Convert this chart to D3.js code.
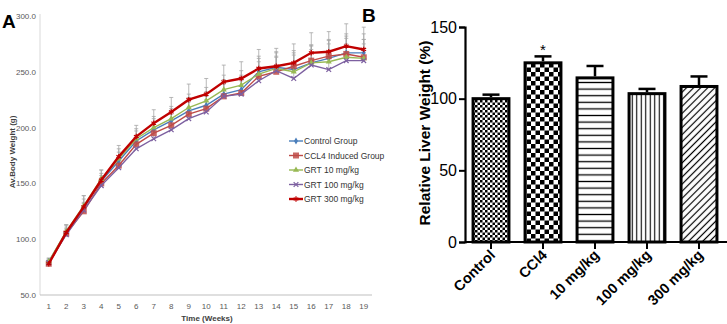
<!DOCTYPE html>
<html>
<head>
<meta charset="utf-8">
<script src="https://cdn.jsdelivr.net/npm/d3@7"></script>
<style>
  body { margin: 0; background: #fff; }
  svg { display: block; font-family: "Liberation Sans", Arial, sans-serif; }
</style>
</head>
<body>
<div id="chart"></div>
<script>
// ---- panel A data ----
const weeks = d3.range(1, 20);
const seriesNames = ["Control Group", "CCL4 Induced Group", "GRT 10 mg/kg", "GRT 100 mg/kg", "GRT 300 mg/kg"];
const controlVals = [80, 106, 128, 152, 170, 188, 198, 206, 215, 220, 230, 234, 250, 254, 252, 258, 262, 267, 267];
const ccl4Vals    = [78, 105, 125, 150, 166, 185, 195, 202, 212, 217, 228, 231, 246, 250, 255, 260, 264, 266, 263];
const grt10Vals   = [80, 107, 130, 154, 172, 190, 200, 208, 218, 224, 234, 238, 248, 253, 250, 258, 259, 263, 262];
const grt100Vals  = [79, 104, 126, 148, 164, 181, 190, 198, 208, 214, 228, 230, 242, 251, 244, 256, 252, 260, 260];
const grt300Vals  = [78, 106, 129, 153, 174, 192, 204, 214, 225, 230, 241, 244, 253, 255, 258, 267, 268, 273, 270];
const controlErr  = [3, 6, 8, 7, 8, 9, 10, 11, 12, 12, 13, 13, 14, 14, 15, 16, 16, 17, 17];
const ccl4Err     = [3, 5, 7, 7, 8, 8, 9, 10, 11, 11, 12, 12, 13, 13, 14, 14, 15, 16, 16];
const grt10Err    = [3, 6, 9, 8, 9, 9, 10, 11, 12, 12, 13, 13, 14, 14, 15, 15, 16, 17, 17];
const grt100Err   = [3, 5, 7, 7, 7, 8, 9, 10, 10, 11, 11, 12, 12, 13, 13, 14, 14, 15, 15];
const grt300Err   = [3, 7, 10, 9, 10, 10, 12, 13, 14, 14, 15, 15, 17, 16, 17, 18, 18, 20, 20];
const yTicksA = [50, 100, 150, 200, 250, 300];

// ---- panel B data ----
const groups = ["Control", "CCl4", "10 mg/kg", "100 mg/kg", "300 mg/kg"];
const liverVals = [100, 125, 114.5, 103.5, 108.5];
const liverErr  = [2.8, 4.5, 8.3, 3.3, 7];
const yTicksB = [0, 50, 100, 150];

const W = 727, H = 324;
const svg = d3.select("#chart").append("svg").attr("width", W).attr("height", H);

// ================= Panel A =================
const colors = ["#4a7ebb", "#be4b48", "#98b954", "#7d60a0", "#c00000"];
const widths = [1.4, 1.4, 1.4, 1.4, 2.4];
const allVals = [controlVals, ccl4Vals, grt10Vals, grt100Vals, grt300Vals];
const allErr = [controlErr, ccl4Err, grt10Err, grt100Err, grt300Err];

const xA = d3.scalePoint().domain(weeks).range([40, 372.5]).padding(0.5);
const yA = d3.scaleLinear().domain([50, 300]).range([295, 16]);

const gA = svg.append("g");

gA.append("line").attr("x1", 40).attr("x2", 40).attr("y1", 14).attr("y2", 295)
  .attr("stroke", "#d9d9d9").attr("stroke-width", 1);
gA.append("line").attr("x1", 40).attr("x2", 372).attr("y1", 295).attr("y2", 295)
  .attr("stroke", "#bfbfbf").attr("stroke-width", 1);

gA.selectAll(".ytA").data(yTicksA).enter().append("text")
  .attr("x", 36).attr("y", d => yA(d) + 3)
  .attr("text-anchor", "end").attr("font-size", 8).attr("fill", "#595959")
  .text(d => d.toFixed(1));

gA.selectAll(".xtA").data(weeks).enter().append("text")
  .attr("x", d => xA(d)).attr("y", 309)
  .attr("text-anchor", "middle").attr("font-size", 8).attr("fill", "#595959")
  .text(d => d);

gA.append("text").attr("x", 207).attr("y", 321).attr("text-anchor", "middle")
  .attr("font-size", 8).attr("font-weight", "bold").attr("fill", "#404040").text("Time (Weeks)");

gA.append("text").attr("transform", "translate(15,152) rotate(-90)").attr("text-anchor", "middle")
  .attr("font-size", 8).attr("font-weight", "bold").attr("fill", "#404040").text("Av.Body Weight (g)");

gA.append("text").attr("x", 2).attr("y", 28).attr("font-size", 19).attr("font-weight", "bold").text("A");

// error bars (upward only)
allVals.forEach((vals, si) => {
  const eg = gA.append("g").attr("stroke", "#a6a6a6").attr("stroke-width", 0.8);
  weeks.forEach((w, i) => {
    const x = xA(w), y0 = yA(vals[i]), y1 = yA(vals[i] + allErr[si][i]);
    eg.append("line").attr("x1", x).attr("x2", x).attr("y1", y0).attr("y2", y1);
    eg.append("line").attr("x1", x - 2).attr("x2", x + 2).attr("y1", y1).attr("y2", y1);
  });
});

const line = d3.line().x((d, i) => xA(weeks[i])).y(d => yA(d));

function marker(g, type, x, y, c) {
  if (type === 0) {
    g.append("path").attr("d", d3.symbol(d3.symbolDiamond, 14)()).attr("transform", `translate(${x},${y})`).attr("fill", c);
  } else if (type === 1) {
    g.append("rect").attr("x", x - 3).attr("y", y - 3).attr("width", 6).attr("height", 6).attr("fill", c).attr("opacity", 0.85);
  } else if (type === 2) {
    g.append("path").attr("d", d3.symbol(d3.symbolTriangle, 16)()).attr("transform", `translate(${x},${y})`).attr("fill", c);
  } else if (type === 3) {
    g.append("path").attr("d", d3.symbol(d3.symbolX, 16)()).attr("transform", `translate(${x},${y})`).attr("fill", "none").attr("stroke", c).attr("stroke-width", 1.2);
  } else {
    g.append("path").attr("d", d3.symbol(d3.symbolAsterisk, 20)()).attr("transform", `translate(${x},${y})`).attr("fill", "none").attr("stroke", c).attr("stroke-width", 1.2);
  }
}

allVals.forEach((vals, si) => {
  gA.append("path").datum(vals).attr("d", line).attr("fill", "none")
    .attr("stroke", colors[si]).attr("stroke-width", widths[si]);
  const mg = gA.append("g");
  vals.forEach((v, i) => marker(mg, si, xA(weeks[i]), yA(v), colors[si]));
});

// legend
const leg = gA.append("g");
seriesNames.forEach((n, i) => {
  const y = 141 + i * 14.5;
  leg.append("line").attr("x1", 289).attr("x2", 303).attr("y1", y).attr("y2", y)
    .attr("stroke", colors[i]).attr("stroke-width", widths[i]);
  marker(leg, i, 296, y, colors[i]);
  leg.append("text").attr("x", 304).attr("y", y + 3).attr("font-size", 8.5).attr("fill", "#333").text(n);
});

// ================= Panel B =================
const defs = svg.append("defs");
const p0 = defs.append("pattern").attr("id", "pat0").attr("patternUnits", "userSpaceOnUse").attr("width", 5).attr("height", 5);
p0.append("rect").attr("width", 5).attr("height", 5).attr("fill", "#fff");
p0.append("rect").attr("width", 2.5).attr("height", 2.5).attr("fill", "#000");
p0.append("rect").attr("x", 2.5).attr("y", 2.5).attr("width", 2.5).attr("height", 2.5).attr("fill", "#000");

const p1 = defs.append("pattern").attr("id", "pat1").attr("patternUnits", "userSpaceOnUse").attr("width", 9).attr("height", 9);
p1.append("rect").attr("width", 9).attr("height", 9).attr("fill", "#fff");
p1.append("rect").attr("width", 4.5).attr("height", 4.5).attr("fill", "#000");
p1.append("rect").attr("x", 4.5).attr("y", 4.5).attr("width", 4.5).attr("height", 4.5).attr("fill", "#000");

const p2 = defs.append("pattern").attr("id", "pat2").attr("patternUnits", "userSpaceOnUse").attr("width", 10).attr("height", 6.6);
p2.append("rect").attr("width", 10).attr("height", 6.6).attr("fill", "#fff");
p2.append("line").attr("x1", 0).attr("x2", 10).attr("y1", 3.3).attr("y2", 3.3).attr("stroke", "#000").attr("stroke-width", 1.3);

const p3 = defs.append("pattern").attr("id", "pat3").attr("patternUnits", "userSpaceOnUse").attr("width", 4.5).attr("height", 10);
p3.append("rect").attr("width", 4.5).attr("height", 10).attr("fill", "#fff");
p3.append("line").attr("x1", 2.25).attr("x2", 2.25).attr("y1", 0).attr("y2", 10).attr("stroke", "#000").attr("stroke-width", 1.1);

const p4 = defs.append("pattern").attr("id", "pat4").attr("patternUnits", "userSpaceOnUse").attr("width", 5).attr("height", 5)
  .attr("patternTransform", "rotate(45)");
p4.append("rect").attr("width", 5).attr("height", 5).attr("fill", "#fff");
p4.append("line").attr("x1", 2.5).attr("x2", 2.5).attr("y1", 0).attr("y2", 5).attr("stroke", "#000").attr("stroke-width", 1.2);

const xB = d3.scaleBand().domain(groups).range([465, 725]).paddingInner(0.31).paddingOuter(0.155);
const yB = d3.scaleLinear().domain([0, 150]).range([242, 27]);
const gB = svg.append("g");

gB.append("text").attr("x", 362).attr("y", 22).attr("font-size", 19).attr("font-weight", "bold").text("B");

gB.selectAll(".bar").data(groups).enter().append("rect")
  .attr("x", d => xB(d)).attr("width", xB.bandwidth())
  .attr("y", (d, i) => yB(liverVals[i])).attr("height", (d, i) => yB(0) - yB(liverVals[i]))
  .attr("fill", (d, i) => `url(#pat${i})`).attr("stroke", "#000").attr("stroke-width", 3);

groups.forEach((g, i) => {
  const cx = xB(g) + xB.bandwidth() / 2;
  const yt = yB(liverVals[i] + liverErr[i]);
  gB.append("line").attr("x1", cx).attr("x2", cx).attr("y1", yB(liverVals[i]) - 1.5).attr("y2", yt)
    .attr("stroke", "#000").attr("stroke-width", 2.5);
  gB.append("line").attr("x1", cx - 8.5).attr("x2", cx + 8.5).attr("y1", yt).attr("y2", yt)
    .attr("stroke", "#000").attr("stroke-width", 2.5);
});

// significance mark
gB.append("text").attr("x", xB("CCl4") + xB.bandwidth() / 2).attr("y", yB(liverVals[1] + liverErr[1]) + 3)
  .attr("dy", -4).attr("text-anchor", "middle").attr("font-size", 15).text("*");

// axes
const axY = gB.append("g").attr("transform", "translate(465,0)")
  .call(d3.axisLeft(yB).tickValues(yTicksB).tickSize(6).tickPadding(2));
axY.select(".domain").attr("stroke-width", 2.2);
axY.selectAll(".tick line").attr("stroke-width", 2);
axY.selectAll("text").attr("font-size", 16).attr("font-family", "'Liberation Sans', Arial, sans-serif");

const axX = gB.append("g").attr("transform", "translate(0,242)")
  .call(d3.axisBottom(xB).tickSize(7).tickSizeOuter(0).tickFormat(""));
axX.select(".domain").attr("stroke-width", 2.2).attr("d", "M465,0H727");
axX.selectAll(".tick line").attr("stroke-width", 2);

gB.selectAll(".xl").data(groups).enter().append("text")
  .attr("transform", d => `translate(${xB(d) + xB.bandwidth() / 2 + 5},${256}) rotate(-45)`)
  .attr("text-anchor", "end").attr("font-size", 14.5).attr("font-weight", "bold").text(d => d);

gB.append("text").attr("transform", "translate(430,133) rotate(-90)").attr("text-anchor", "middle")
  .attr("font-size", 15.5).attr("font-weight", "bold").text("Relative Liver Weight (%)");
</script>
</body>
</html>
